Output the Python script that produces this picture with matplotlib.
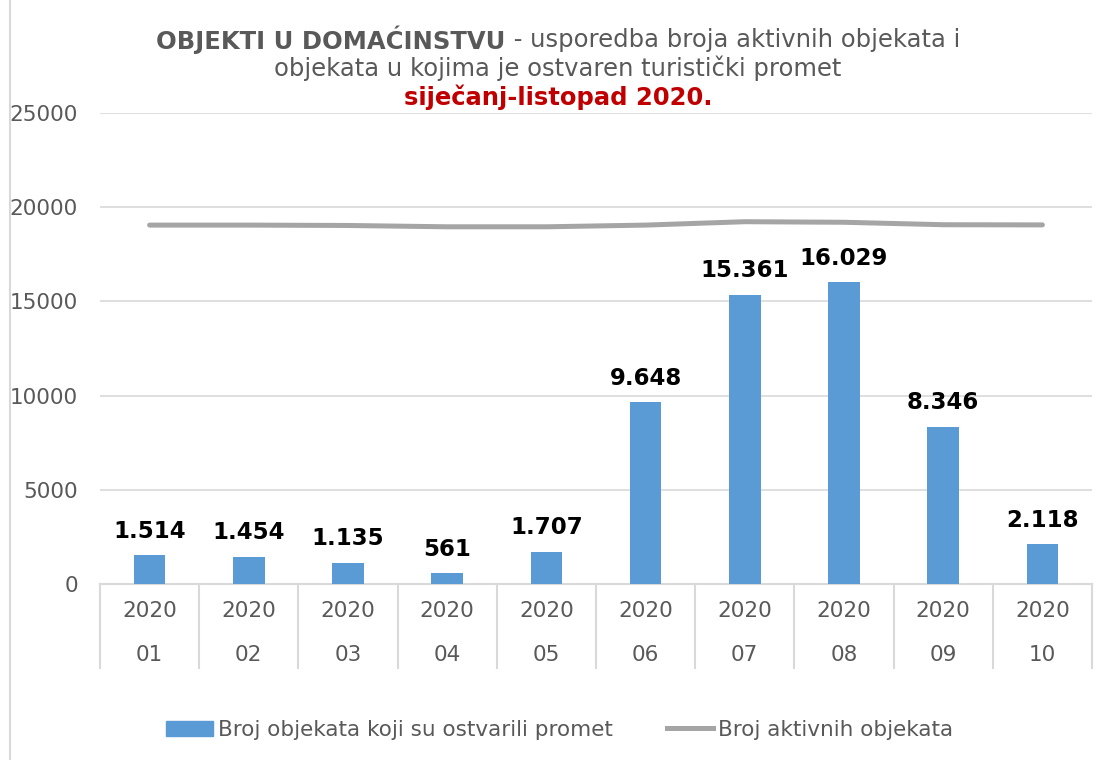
import matplotlib
matplotlib.use("Agg")
import matplotlib.pyplot as plt
from matplotlib.lines import Line2D
from matplotlib.patches import Patch

years = ["2020"] * 10
months = ["01", "02", "03", "04", "05", "06", "07", "08", "09", "10"]
promet = [1514, 1454, 1135, 561, 1707, 9648, 15361, 16029, 8346, 2118]
aktivni = [19050, 19050, 19030, 18960, 18960, 19050, 19230, 19200, 19070, 19060]
bar_labels = ["1.514", "1.454", "1.135", "561", "1.707", "9.648", "15.361", "16.029", "8.346", "2.118"]
yticks = [0, 5000, 10000, 15000, 20000, 25000]

BAR = "#5B9BD5"
LINE = "#A5A5A5"
TXT = "#595959"
GRID = "#D9D9D9"

plt.rcParams['font.family'] = ['DejaVu Sans']
W, H = 1097, 760
fig = plt.figure(figsize=(W / 100, H / 100), dpi=100)
ax = fig.add_axes([100 / W, 1 - 584 / H, (1092 - 100) / W, (584 - 113) / H])

x = list(range(len(months)))
ax.bar(x, promet, width=0.32, color=BAR, zorder=3)
ax.plot(x, aktivni, color=LINE, lw=3.6, zorder=4, solid_capstyle='round')

for xi, v, lab in zip(x, promet, bar_labels):
    ax.annotate(lab, (xi, v), xytext=(0, 9), textcoords='offset points',
                ha='center', va='bottom', fontsize=16.5, fontweight='bold', color='black')

ax.set_xlim(-0.5, len(months) - 0.5)
ax.set_ylim(0, 25000)
ax.set_yticks(yticks)
ax.set_yticklabels([str(t) for t in yticks], fontsize=15.5, color=TXT)
ax.tick_params(axis='y', length=0, pad=16)
ax.set_xticks([])
ax.grid(axis='y', color=GRID, lw=1.2, zorder=0)
for s in ['top', 'right', 'left']:
    ax.spines[s].set_visible(False)
ax.spines['bottom'].set_color(GRID)
ax.spines['bottom'].set_linewidth(1.5)

trans = ax.get_xaxis_transform()
ah = 584 - 113
for xi, yr, m in zip(x, years, months):
    ax.text(xi, -(611 - 584) / ah, yr, transform=trans, ha='center', va='center', fontsize=15.5, color=TXT)
    ax.text(xi, -(655 - 584) / ah, m, transform=trans, ha='center', va='center', fontsize=15.5, color=TXT)
for b in [i - 0.5 for i in range(len(months) + 1)]:
    ax.plot([b, b], [0, -(668 - 584) / ah], transform=trans, color=GRID, lw=1.5, clip_on=False)

# chart border (left edge)
fig.add_artist(Line2D([10 / W, 10 / W], [0, 1], color=GRID, lw=1.5))

# title
fig.canvas.draw()
r = fig.canvas.get_renderer()
TS = 17.5
t1a = fig.text(0, 1 - 40 / H, "OBJEKTI U DOMAĆINSTVU", fontsize=TS, fontweight='bold', color=TXT, va='center')
t1b = fig.text(0, 1 - 40 / H, " - usporedba broja aktivnih objekata i", fontsize=TS, color=TXT, va='center')
wa = t1a.get_window_extent(r).width
wb = t1b.get_window_extent(r).width
cx = 558
start = cx - (wa + wb) / 2
t1a.set_x(start / W)
t1b.set_x((start + wa) / W)
fig.text(cx / W, 1 - 68 / H, "objekata u kojima je ostvaren turistički promet", fontsize=TS, color=TXT, ha='center', va='center')
fig.text(cx / W, 1 - 97 / H, "siječanj-listopad 2020.", fontsize=TS, fontweight='bold', color='#C00000', ha='center', va='center')

handles = [Patch(facecolor=BAR, edgecolor=BAR), Line2D([0], [0], color=LINE, lw=3.6)]
fig.legend(handles, ["Broj objekata koji su ostvarili promet", "Broj aktivnih objekata"],
           loc='center', bbox_to_anchor=(560 / W, 1 - 730 / H), ncol=2, frameon=False,
           fontsize=15.5, labelcolor=TXT, handlelength=2.15, handletextpad=0.25, columnspacing=2.5)

fig.savefig("out.png", dpi=100, facecolor='white')
